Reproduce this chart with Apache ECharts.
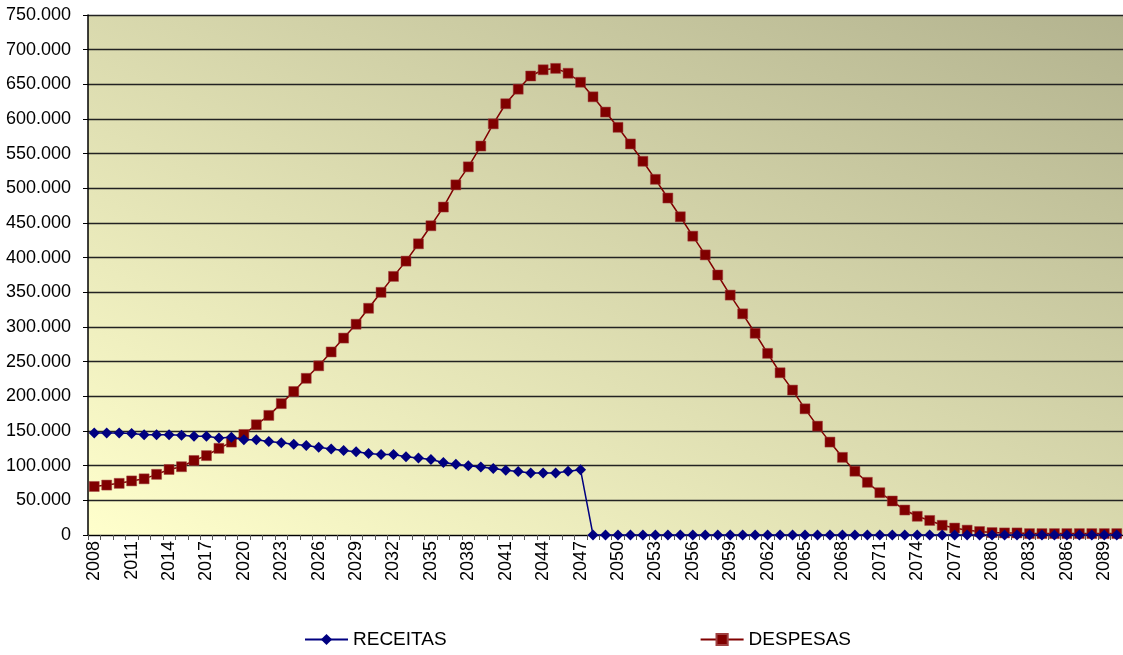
<!DOCTYPE html>
<html>
<head>
<meta charset="utf-8">
<script src="https://cdn.jsdelivr.net/npm/echarts@6/dist/echarts.min.js"></script>
<style>
html,body{margin:0;padding:0;background:#fff;}
#chart{width:1123px;height:655px;}
</style>
</head>
<body>
<div id="chart"></div>
<script>
var years = [];
for (var y = 2008; y <= 2090; y++) years.push(String(y));

var receitas = [
147000,147000,147000,146500,144500,144500,144500,144000,142500,142500,
140000,141000,137500,137500,135000,133000,131000,129000,126500,124000,
122000,120000,117500,116000,116000,113000,111000,109000,104500,102000,
100000,98000,96000,93500,91500,89500,89500,89500,92000,94000,
0,0,0,0,0,0,0,0,0,0,
0,0,0,0,0,0,0,0,0,0,
0,0,0,0,0,0,0,0,0,0,
0,0,0,0,0,0,0,0,0,0,
0,0,0
];

var despesas = [
70000,72000,74500,78000,81000,87500,94500,98500,107500,114500,
125000,134000,145000,159000,172500,189500,207000,226000,244000,264000,
284000,304000,327000,350000,373000,395000,420000,446000,473000,505000,
531000,561000,593000,622000,643000,662000,671000,673000,666000,653000,
632000,610000,588000,564000,539000,513000,486000,459000,431000,404000,
375000,346000,319000,291000,262000,234000,209000,182000,157000,134000,
112000,92000,76000,61000,49000,36000,27000,21000,14000,10000,
7000,5000,3500,3000,3000,2000,2000,2000,2000,2000,
2000,2000,2000
];

var yTickStep = 50000;

function fmt(v){
  return String(v).replace(/\B(?=(\d{3})+(?!\d))/g, '.');
}

// plot box (pixels)
var GL = 88, GT = 15, GW = 1037.5, GH = 520;
// diagonal gradient, isolines parallel to the top-left/bottom-right diagonal
var kk = 2 * GW * GH / (GW * GW + GH * GH);
var bg = new echarts.graphic.LinearGradient(
  GL, GT + GH, GL + kk * GH, GT + GH - kk * GW,
  [{offset: 0, color: '#FFFFCC'}, {offset: 1, color: '#B3B38F'}], true);

var chart = echarts.init(document.getElementById('chart'), null, {renderer:'canvas'});
chart.setOption({
  animation: false,
  backgroundColor: '#ffffff',
  textStyle: {fontFamily: 'Liberation Sans, Arial, sans-serif'},
  grid: {
    left: GL, top: GT, width: GW, height: GH,
    show: true, borderWidth: 0,
    backgroundColor: bg
  },
  legend: {
    top: 625, left: 299,
    itemGap: 253, itemWidth: 43, itemHeight: 14,
    textStyle: {fontSize: 19, color: '#000', fontFamily: 'Liberation Sans, Arial, sans-serif'},
    data: ['RECEITAS', 'DESPESAS']
  },
  xAxis: {
    type: 'category',
    data: years,
    boundaryGap: true,
    axisLine: {lineStyle: {color: '#000', width: 1}},
    axisTick: {show: true, interval: 0, length: 5, lineStyle: {color: '#555'}},
    axisLabel: {interval: 2, rotate: 90, fontSize: 18, color: '#000', margin: 6},
    splitLine: {show: false}
  },
  yAxis: {
    type: 'value',
    min: 0, max: 750000, interval: yTickStep,
    axisLine: {show: true, lineStyle: {color: '#000', width: 1.5}},
    axisTick: {show: true, length: 5, lineStyle: {color: '#000'}},
    axisLabel: {fontSize: 18, color: '#000', margin: 17, formatter: fmt},
    splitLine: {show: true, lineStyle: {color: '#222', width: 1.3}}
  },
  series: [
    {
      name: 'RECEITAS', type: 'line', data: receitas,
      symbol: 'diamond', symbolSize: 11, showAllSymbol: true,
      lineStyle: {color: '#000080', width: 1.5},
      itemStyle: {color: '#000080'},
      z: 3
    },
    {
      name: 'DESPESAS', type: 'line', data: despesas,
      symbol: 'rect', symbolSize: 10, showAllSymbol: true,
      lineStyle: {color: '#800000', width: 1.5},
      itemStyle: {color: '#800000', borderColor: '#A04040', borderWidth: 0.5},
      z: 2
    }
  ]
});
</script>
</body>
</html>
